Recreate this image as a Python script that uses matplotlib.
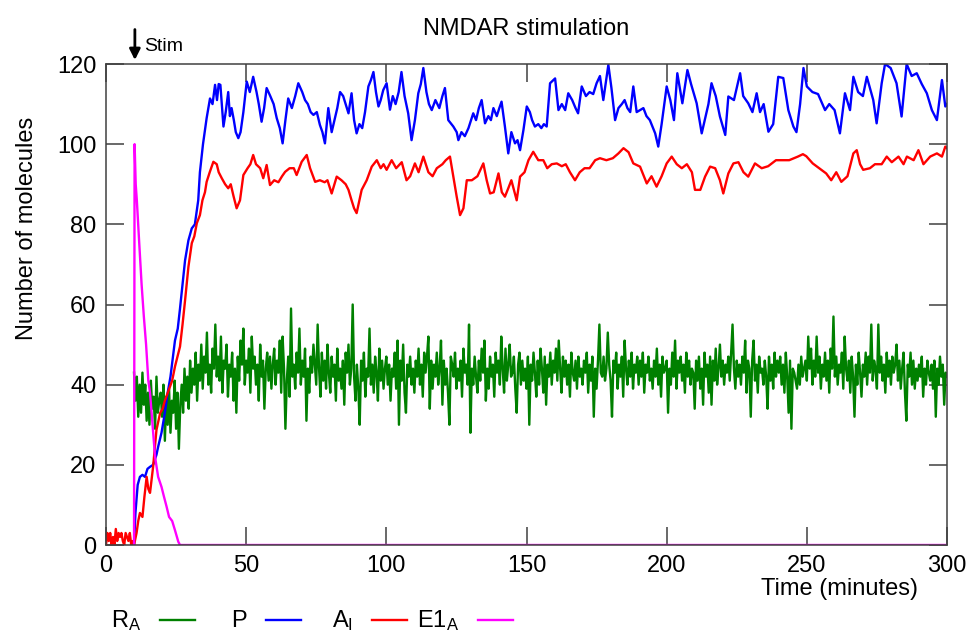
"""
NMDAR stimulation: molecule counts over time (gnuplot-style reproduction)
"""
import matplotlib
matplotlib.use("Agg")
import matplotlib.pyplot as plt
import numpy as np
from matplotlib.lines import Line2D

plt.rcParams['font.family'] = ['Liberation Sans', 'DejaVu Sans']
plt.rcParams['mathtext.fontset'] = 'custom'
plt.rcParams['mathtext.rm'] = 'Liberation Sans'

# ==================== data ====================
STIM_TIME = 10.3

# R_A: sampled every 0.5 min starting at t = 10
RA_START = 10.0
RA_STEP = 0.5
RA_COUNT = [
    43, 36, 42, 32, 40, 33, 43, 35, 40, 31, 38, 30, 41, 34, 37, 29, 42, 33, 36, 38,
    32, 40, 26, 37, 30, 39, 28, 36, 33, 41, 29, 38, 24, 35, 40, 33, 44, 36, 42, 34,
    46, 38, 44, 40, 48, 36, 45, 41, 50, 39, 47, 43, 53, 40, 45, 38, 49, 44, 55, 42,
    47, 41, 52, 38, 46, 44, 50, 37, 45, 42, 48, 36, 44, 33, 47, 41, 51, 45, 54, 40,
    46, 43, 49, 38, 52, 44, 47, 40, 45, 36, 50, 42, 46, 34, 44, 48, 41, 47, 39, 45,
    49, 40, 46, 43, 51, 38, 52, 44, 29, 41, 47, 37, 59, 42, 45, 39, 48, 43, 54, 40,
    46, 42, 49, 31, 44, 38, 47, 43, 50, 45, 40, 55, 44, 37, 48, 41, 46, 39, 50, 43,
    38, 47, 42, 45, 36, 49, 41, 44, 39, 46, 35, 48, 43, 50, 40, 44, 60, 42, 36, 45,
    39, 30, 46, 41, 48, 37, 44, 42, 54, 40, 45, 38, 47, 43, 36, 49, 41, 46, 39, 44,
    47, 40, 45, 36, 44, 42, 48, 39, 51, 30, 46, 41, 50, 38, 33, 45, 42, 47, 40, 44,
    38, 46, 42, 49, 40, 45, 37, 48, 43, 47, 52, 34, 46, 39, 45, 42, 48, 40, 44, 51,
    35, 46, 40, 44, 38, 30, 47, 45, 42, 48, 39, 44, 41, 46, 37, 49, 43, 45, 40, 55,
    28, 44, 40, 47, 42, 38, 46, 41, 49, 43, 51, 36, 44, 39, 47, 42, 45, 37, 48, 43,
    46, 40, 52, 44, 38, 49, 41, 45, 50, 42, 43, 47, 39, 33, 45, 48, 40, 46, 41, 44,
    39, 47, 30, 45, 41, 48, 43, 37, 46, 40, 49, 44, 38, 47, 35, 45, 42, 48, 40, 46,
    43, 49, 41, 51, 44, 38, 47, 42, 46, 40, 45, 37, 48, 43, 41, 46, 39, 47, 42, 44,
    40, 46, 43, 48, 38, 45, 41, 47, 32, 44, 39, 46, 55, 43, 42, 47, 41, 44, 53, 45,
    41, 32, 46, 43, 48, 39, 45, 42, 47, 37, 51, 44, 40, 46, 42, 48, 39, 45, 43, 47,
    40, 46, 42, 48, 38, 45, 43, 47, 41, 44, 39, 46, 42, 49, 40, 45, 37, 47, 43, 44,
    46, 33, 44, 40, 48, 42, 51, 39, 46, 43, 47, 41, 45, 38, 48, 42, 46, 40, 44, 43,
    34, 46, 41, 47, 39, 44, 35, 48, 42, 45, 38, 47, 35, 46, 41, 49, 40, 44, 50, 42,
    46, 40, 45, 43, 47, 41, 48, 55, 44, 39, 46, 42, 45, 40, 47, 43, 51, 38, 46, 44,
    32, 46, 51, 41, 45, 38, 47, 43, 44, 40, 46, 42, 34, 47, 41, 45, 39, 48, 42, 46,
    43, 47, 40, 45, 38, 48, 42, 33, 46, 29, 44, 43, 41, 39, 45, 40, 47, 42, 44, 46,
    41, 52, 44, 49, 40, 46, 42, 52, 43, 47, 39, 45, 42, 48, 41, 46, 38, 49, 44, 57,
    42, 47, 40, 45, 43, 48, 39, 52, 44, 41, 46, 38, 47, 42, 32, 45, 40, 48, 43, 37,
    45, 42, 48, 40, 47, 43, 55, 41, 46, 44, 39, 55, 43, 47, 41, 45, 38, 48, 42, 46,
    40, 47, 43, 45, 50, 41, 46, 39, 44, 48, 38, 31, 45, 42, 48, 40, 46, 39, 44, 41,
    45, 42, 47, 37, 44, 40, 46, 43, 41, 45, 39, 46, 32, 44, 40, 47, 42, 45, 35, 43, 42,
]

# P: (time, count)
P_TRACE = [
    (10.0, 0), (10.5, 8), (11.3, 15), (12.1, 17), (13.0, 17.5), (13.9, 17), (14.8, 19),
    (15.7, 19.5), (16.8, 20), (18.0, 22.5), (18.6, 24.5), (19.8, 28), (21.0, 33), (22.0, 38),
    (23.0, 42), (24.6, 51), (25.6, 54), (26.4, 59), (27.3, 65), (28.2, 71), (29.4, 76),
    (30.6, 79), (31.7, 80), (32.9, 86), (33.5, 93), (34.6, 100), (35.9, 106.5), (37.1, 111.4),
    (38.0, 110), (38.9, 114.8), (39.6, 111), (40.2, 115), (40.8, 114.8), (41.9, 104.4),
    (42.7, 108), (43.6, 113), (44.2, 107), (44.8, 109), (45.6, 106), (46.3, 103), (47.2, 101.5),
    (48.0, 103), (49.0, 108), (50.2, 115.6), (51.3, 113), (52.5, 116.8), (53.7, 113), (54.5, 110),
    (55.5, 105.6), (56.4, 109), (57.3, 114), (58.6, 112), (59.8, 110), (60.9, 106.5), (62.0, 104),
    (63.0, 100.2), (64.0, 106), (65.0, 111.4), (66.3, 109), (67.5, 112), (68.6, 115.2), (70.0, 113),
    (71.0, 111), (72.0, 110), (73.0, 108), (74.0, 107.3), (75.2, 108), (76.3, 104.8), (77.2, 103),
    (78.1, 100.2), (79.3, 109), (80.5, 103), (81.5, 106), (82.5, 109), (83.5, 113), (84.6, 112),
    (85.5, 110), (86.5, 107.7), (87.6, 112.7), (88.5, 106), (89.4, 102.7), (90.4, 105), (91.4, 104),
    (92.4, 108), (93.6, 114.4), (94.5, 116), (95.4, 118), (96.3, 113), (97.2, 109.4), (98.0, 111),
    (98.9, 113.5), (100.1, 115.2), (101.3, 108.6), (102.3, 112), (103.3, 110), (104.4, 113),
    (105.4, 118), (106.5, 112), (107.8, 107.7), (109.0, 101), (110.2, 106), (111.4, 112.7),
    (112.3, 115), (113.2, 119), (114.3, 113), (115.2, 110), (116.2, 108.5), (117.5, 111),
    (118.9, 109), (120.0, 112), (120.9, 114), (122.1, 106), (123.9, 104.4), (125.1, 103),
    (125.7, 101), (126.8, 103), (128.0, 102), (129.3, 104), (131.0, 107.7), (132.0, 106),
    (133.0, 109), (134.0, 111), (135.2, 105.2), (136.4, 107), (137.3, 106), (138.2, 109),
    (139.4, 107), (140.3, 109), (141.1, 110.6), (142.3, 104.4), (143.5, 97.7), (144.6, 103),
    (145.9, 100.2), (146.8, 101), (147.7, 98.5), (148.9, 103.5), (150.1, 109.4), (151.2, 108),
    (152.0, 106), (153.0, 104.4), (154.2, 105), (155.3, 104), (156.2, 105), (157.2, 104.4),
    (158.4, 115.2), (160.2, 116.4), (161.4, 108.5), (162.6, 110), (163.8, 108.5), (164.9, 112.7),
    (166.3, 111), (167.5, 109), (168.4, 107.7), (169.7, 114.4), (171.2, 112), (172.5, 113),
    (173.8, 112.5), (175.0, 115.2), (176.2, 117), (177.4, 111), (179.2, 119.8), (180.3, 114),
    (181.6, 106), (182.8, 109), (184.0, 110), (185.0, 111), (186.0, 109), (187.0, 108),
    (188.1, 114.4), (189.3, 108), (190.5, 108.5), (191.7, 109), (192.8, 107), (194.0, 106),
    (195.9, 102.7), (197.0, 99.4), (198.2, 105), (200.0, 114.4), (201.3, 111), (202.6, 106),
    (203.8, 117.7), (205.6, 110.2), (207.4, 118.5), (208.7, 115), (210.7, 110.2), (212.5, 102.7),
    (214.9, 110), (216.0, 115.2), (217.5, 112), (219.0, 106.9), (220.9, 102.3), (222.0, 111.9),
    (224.0, 111), (226.2, 117.7), (227.3, 112), (229.1, 110.2), (230.6, 108), (232.1, 112.7),
    (233.3, 108), (234.6, 110), (236.3, 103.1), (238.0, 105), (239.8, 116.8), (241.6, 116.5),
    (243.4, 108.5), (245.2, 104.4), (246.3, 103), (247.6, 110), (248.8, 119), (250.0, 114.4),
    (252.0, 113), (254.0, 112.5), (256.5, 108.5), (258.0, 110), (259.9, 108.5), (261.8, 102.7),
    (263.6, 112.7), (265.4, 108.5), (266.6, 116.8), (268.3, 113), (270.0, 112), (271.4, 116.8),
    (273.7, 111), (274.9, 105.2), (276.7, 115.2), (277.9, 120), (279.9, 119), (282.0, 115.2),
    (283.8, 106.9), (285.6, 120), (287.4, 117), (289.2, 117.7), (291.0, 115), (292.8, 112.7),
    (294.6, 108.5), (296.4, 106), (298.2, 116), (299.4, 109.4), (300.0, 110),
]

# A_I: (time, count)
AI_TRACE = [
    (0, 0), (0.5, 3), (1.0, 1), (1.5, 3), (2.0, 0), (2.5, 2), (3.0, 0), (3.5, 4), (4.0, 1),
    (4.5, 3), (5.0, 2), (5.5, 3), (6.0, 1), (6.5, 0), (7.0, 3), (7.5, 2), (8.0, 1), (8.5, 3),
    (9.0, 0), (9.5, 1), (10.0, 0), (10.9, 3), (11.5, 6), (12.1, 8), (13.0, 7), (13.7, 12),
    (14.5, 17), (15.1, 14), (15.7, 13), (16.8, 19.5), (18.0, 28.7), (19.3, 32.9), (20.2, 34),
    (21.0, 36), (22.8, 39.5), (23.6, 41), (24.6, 44.5), (26.4, 49.5), (27.3, 55), (28.2, 61),
    (29.4, 69.4), (30.6, 75.3), (31.5, 77), (32.4, 80.3), (33.5, 82.3), (34.4, 86), (35.3, 88),
    (35.9, 90.6), (37.0, 93), (38.3, 95.6), (39.5, 95), (40.2, 93), (41.3, 91.5), (42.5, 90),
    (43.6, 89), (44.5, 90), (45.5, 87), (46.6, 84), (47.8, 86), (49.0, 92.3), (50.5, 94),
    (51.5, 95), (52.5, 97.3), (53.5, 95), (55.0, 94), (56.1, 91.5), (57.3, 94.8), (58.5, 89.8),
    (60.0, 91), (61.5, 90.5), (62.8, 92), (63.9, 93.1), (65.5, 94), (67.0, 94), (68.0, 92.3),
    (69.8, 95.6), (71.6, 97.3), (72.8, 94), (74.6, 90.6), (76.3, 91), (78.0, 90.5), (79.0, 91),
    (80.5, 87.7), (82.3, 91.9), (84.0, 91), (85.5, 90), (86.5, 88.6), (87.6, 86), (88.5, 84),
    (89.4, 82.8), (91.2, 88.6), (93.0, 91), (94.8, 94.4), (96.6, 96), (98.0, 94), (99.0, 95),
    (100.1, 93.6), (101.9, 96), (103.5, 94), (105.5, 95.5), (107.2, 91), (108.5, 92),
    (110.2, 95.2), (111.5, 93), (113.2, 96.9), (115.0, 93), (116.5, 92), (118.0, 94), (120.0, 95),
    (121.2, 96), (122.7, 96.9), (123.9, 91.9), (125.1, 86.9), (126.3, 82.3), (127.5, 84),
    (128.7, 91), (130.5, 91), (132.5, 92), (134.6, 95.2), (135.8, 91), (137.0, 87.7), (138.3, 88),
    (140.0, 92.7), (141.2, 88), (142.3, 86.9), (143.5, 89), (144.6, 91), (146.5, 86),
    (147.7, 91.9), (149.3, 93), (150.7, 96), (152.4, 98.1), (154.2, 96), (156.0, 96), (157.4, 94),
    (159.0, 95), (160.8, 95.2), (162.6, 94.5), (164.0, 95), (165.5, 93), (167.3, 91), (169.0, 93),
    (170.7, 94), (172.5, 94), (174.5, 96), (176.2, 96.5), (178.5, 96), (180.8, 96.5),
    (182.8, 97.7), (184.6, 99), (186.4, 98), (188.1, 95.2), (190.5, 94.4), (192.9, 90.2),
    (194.6, 92), (196.4, 89.4), (198.2, 92), (200.0, 95.2), (201.8, 96.9), (203.6, 95),
    (205.4, 94), (207.2, 95), (209.0, 93), (210.1, 88.6), (212.0, 88.6), (213.7, 91.9),
    (215.5, 94.4), (217.3, 94), (219.0, 91), (220.2, 87.7), (222.0, 92.7), (223.8, 95.2),
    (225.6, 95.5), (227.4, 93), (229.1, 91.9), (231.5, 95.2), (233.9, 94), (236.2, 94.5),
    (239.0, 96), (241.4, 96), (243.7, 96), (246.8, 96.9), (248.6, 97.5), (249.8, 97),
    (252.1, 95.2), (254.4, 94), (256.9, 92.7), (258.7, 91), (260.5, 93), (262.3, 90.6),
    (264.5, 92), (266.6, 97.7), (267.8, 98.5), (269.0, 95), (270.1, 93.6), (272.5, 94),
    (274.3, 95), (276.7, 95), (278.5, 96.9), (280.3, 95.5), (282.7, 96.9), (284.5, 95),
    (285.7, 96.9), (288.1, 96), (289.8, 98.5), (291.6, 95), (294.0, 96.9), (296.4, 97.7),
    (298.2, 96.9), (299.4, 99.4), (300.0, 99),
]

# E1_A: (time, count)
E1A_TRACE = [
    (10.0, 0), (10.2, 100), (10.6, 90), (11.0, 86), (11.8, 76), (12.7, 65), (13.5, 57),
    (14.3, 50), (15.1, 41), (15.7, 38), (16.6, 30), (17.5, 22), (18.6, 17), (19.8, 14.5),
    (20.7, 12), (21.6, 9.6), (22.5, 7), (23.6, 6), (24.6, 3.7), (25.8, 0.8), (26.4, 0),
    (300.0, 0),
]

SERIES_LABELS = [r'$\mathregular{R_A}$', 'P', r'$\mathregular{A_I}$', r'$\mathregular{E1_A}$']
SERIES_COLORS = ['#008000', '#0000ff', '#ff0000', '#ff00ff']
XTICKS = [0, 50, 100, 150, 200, 250, 300]
YTICKS = [0, 20, 40, 60, 80, 100, 120]
# ======================================================================

FS = 17
EDGE = '#404040'
LW = 1.7

fig = plt.figure(figsize=(9.69, 6.35), dpi=100)
ax = fig.add_axes([106 / 969, 1 - 545 / 635, 841 / 969, 481 / 635])

ra_t = RA_START + RA_STEP * np.arange(len(RA_COUNT))
p = np.array(P_TRACE)
ai = np.array(AI_TRACE)
e1 = np.array(E1A_TRACE)

traces = [(ra_t, np.array(RA_COUNT)), (p[:, 0], p[:, 1]), (ai[:, 0], ai[:, 1]), (e1[:, 0], e1[:, 1])]
for (t, v), c in zip(traces, SERIES_COLORS):
    ax.plot(t, v, color=c, lw=LW)

ax.set_xlim(0, 300)
ax.set_ylim(0, 120)
ax.set_xticks(XTICKS)
ax.set_yticks(YTICKS)
ax.tick_params(direction='in', length=13, width=1.1, color=EDGE, labelsize=FS,
               top=True, right=True, pad=7)
for sp in ax.spines.values():
    sp.set_color(EDGE)
    sp.set_linewidth(1.1)

ax.set_title('NMDAR stimulation', fontsize=FS, pad=21)
ax.set_xlabel('Time (minutes)', fontsize=FS)
ax.xaxis.set_label_coords((839.5 - 106) / 841, (545 - 578) / 481)
ax.set_ylabel('Number of molecules', fontsize=FS)
ax.yaxis.set_label_coords((38 - 106) / 841, (545 - 228) / 481)

# stimulus marker
ax.annotate('', xy=(STIM_TIME, 121.0), xytext=(STIM_TIME, 128.6),
            arrowprops=dict(arrowstyle='-|>', color='black', lw=2, mutation_scale=16,
                            shrinkA=0, shrinkB=0),
            annotation_clip=False)
ax.text(STIM_TIME + 3.3, 124.3, 'Stim', fontsize=14, va='center', ha='left', clip_on=False)

# gnuplot-style key under the plot: right-justified label then sample line
for i, (lab, c) in enumerate(zip(SERIES_LABELS, SERIES_COLORS)):
    x0 = 160 + 106 * i
    fig.text((x0 - 19) / 969, 1 - 627 / 635, lab, fontsize=FS, ha='right', va='baseline')
    fig.add_artist(Line2D([x0 / 969, (x0 + 35) / 969], [1 - 620 / 635] * 2,
                          color=c, lw=LW, transform=fig.transFigure))

fig.savefig('out.png', dpi=100)
